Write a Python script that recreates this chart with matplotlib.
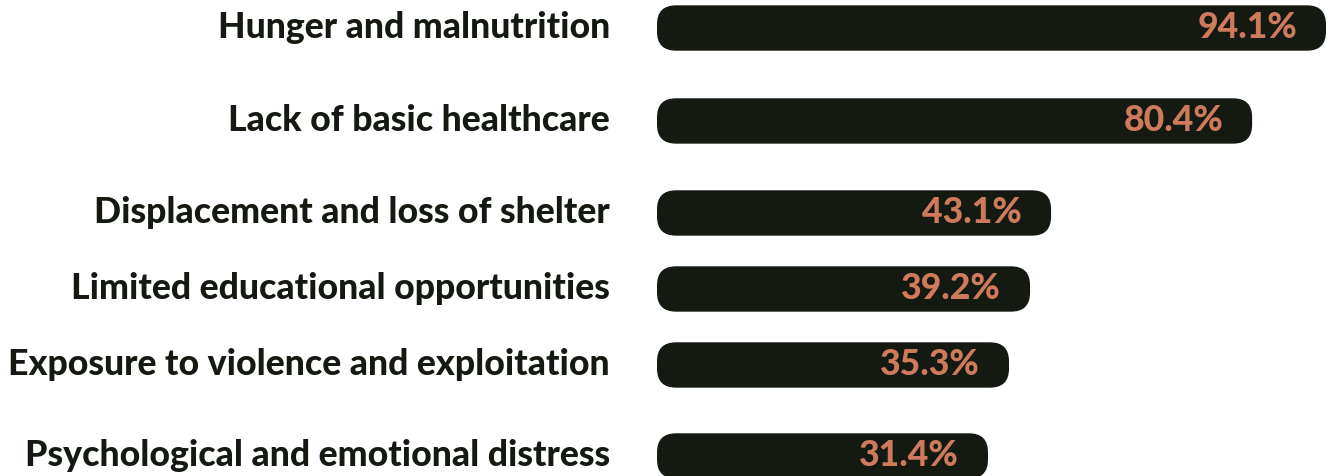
import matplotlib
matplotlib.use("Agg")
import matplotlib.pyplot as plt
from matplotlib.patches import FancyBboxPatch

# ---- data ----
categories = [
    "Hunger and malnutrition",
    "Lack of basic healthcare",
    "Displacement and loss of shelter",
    "Limited educational opportunities",
    "Exposure to violence and exploitation",
    "Psychological and emotional distress",
]
values = [94.1, 80.4, 43.1, 39.2, 35.3, 31.4]

# ---- layout / style ----
row_pos = [0.0, 1.086, 2.161, 3.049, 3.937, 5.0]
bar_h = 0.53
x_start = -30.0
BAR = "#141a12"
VAL = "#cf7b5b"
FONT = ["Lato", "DejaVu Sans"]
W, H, DPI = 1328, 477, 100

fig = plt.figure(figsize=(W / DPI, H / DPI), dpi=DPI)
ax_left_px = 657
ax = fig.add_axes([ax_left_px / W, 0, (W - ax_left_px) / W, 1])
ax_w_px = W - ax_left_px
sx = (max(values) - x_start) / (ax_w_px - 2)
x_end = x_start + sx * ax_w_px
ax.set_xlim(x_start, x_end)
ax.set_ylim(5.234, -0.339)
ax.axis("off")

sy = (5.234 + 0.339) / H
r_px = 19
for v, y in zip(values, row_pos):
    p = FancyBboxPatch((x_start, y - bar_h / 2), v - x_start, bar_h,
                       boxstyle=f"round,pad=0,rounding_size={r_px * sx}",
                       mutation_aspect=sy / sx,
                       facecolor=BAR, edgecolor="none")
    ax.add_patch(p)

fs = 24
pt = 72 / DPI
cat_txt = []
for c, y in zip(categories, row_pos):
    t = ax.annotate(c, xy=(x_start, y), xytext=(-47 * pt, 1.5 * pt),
                    textcoords="offset points", ha="right", va="center",
                    color=BAR, fontsize=fs, fontweight="black",
                    fontfamily=FONT, annotation_clip=False)
    cat_txt.append(t)

vals_txt = []
for v, y in zip(values, row_pos):
    t = ax.annotate(f"{v}%", xy=(v, y), xytext=(-29 * pt, 1.5 * pt),
                    textcoords="offset points", ha="right", va="center",
                    color=VAL, fontsize=fs, fontweight="black",
                    fontfamily=FONT)
    vals_txt.append(t)

# fit label font size to the reference width of the longest label
fig.canvas.draw()
r = fig.canvas.get_renderer()
widths = [t.get_window_extent(r).width for t in cat_txt]
nfs = fs * 602 / max(widths)
for t in cat_txt + vals_txt:
    t.set_fontsize(nfs)

fig.savefig("out.png", dpi=DPI, facecolor="white")
